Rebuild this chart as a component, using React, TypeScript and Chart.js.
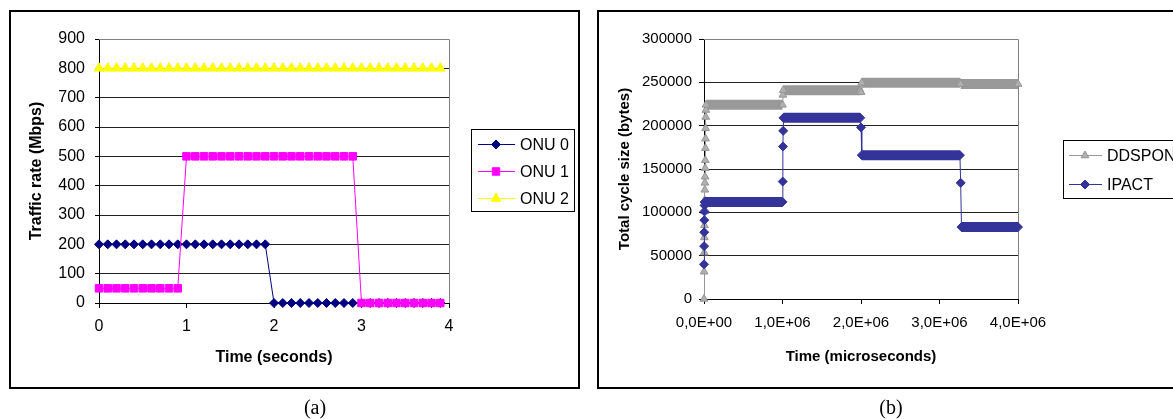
import React, { useEffect, useRef } from 'react';
import { Chart, registerables } from 'chart.js';

Chart.register(...registerables);

// ---------- Panel (a) data ----------
const timeA = [0, 0.1, 0.2, 0.3, 0.4, 0.5, 0.6, 0.7, 0.8, 0.9, 1.0, 1.1, 1.2, 1.3, 1.4, 1.5, 1.6, 1.7, 1.8, 1.9,
  2.0, 2.1, 2.2, 2.3, 2.4, 2.5, 2.6, 2.7, 2.8, 2.9, 3.0, 3.1, 3.2, 3.3, 3.4, 3.5, 3.6, 3.7, 3.8, 3.9];
const onu0 = [200, 200, 200, 200, 200, 200, 200, 200, 200, 200, 200, 200, 200, 200, 200, 200, 200, 200, 200, 200,
  0, 0, 0, 0, 0, 0, 0, 0, 0, 0, 0, 0, 0, 0, 0, 0, 0, 0, 0, 0];
const onu1 = [50, 50, 50, 50, 50, 50, 50, 50, 50, 50, 500, 500, 500, 500, 500, 500, 500, 500, 500, 500,
  500, 500, 500, 500, 500, 500, 500, 500, 500, 500, 0, 0, 0, 0, 0, 0, 0, 0, 0, 0];
const onu2 = [800, 800, 800, 800, 800, 800, 800, 800, 800, 800, 800, 800, 800, 800, 800, 800, 800, 800, 800, 800,
  800, 800, 800, 800, 800, 800, 800, 800, 800, 800, 800, 800, 800, 800, 800, 800, 800, 800, 800, 800];
const seriesNamesA = ['ONU 0', 'ONU 1', 'ONU 2'];

// ---------- Panel (b) data ----------
const ddsponTime = [0, 1500, 3000, 4500, 6000, 7500, 9000, 10500, 12000, 13500, 15000, 16500, 18000, 19500, 21000,
  22500, 24000, 26000, 1000000, 1005000, 1010000, 1990000, 2000000, 2010000, 3260000, 3270000, 4000000];
const ddsponSize = [0, 31500, 53500, 71000, 85000, 101000, 114000, 126000, 134000, 141000, 151000, 160000, 174000,
  185000, 197000, 210000, 218000, 224000, 224000, 235500, 241000, 241000, 238500, 249500, 249500, 248000, 248000];
const ipactTime = [0, 1500, 3000, 4500, 6000, 7500, 9000, 1000000, 1003000, 1006000, 1009000, 1012000, 1990000,
  2000000, 2010000, 3260000, 3270000, 3280000, 4000000];
const ipactSize = [40000, 61000, 77000, 91000, 101000, 108000, 112000, 112000, 135500, 176000, 194000, 209000, 209000,
  198000, 166000, 166000, 134000, 83000, 83000];
const seriesNamesB = ['DDSPON', 'IPACT'];
const xTicksB = [0, 1000000, 2000000, 3000000, 4000000];
const xTickLabelsB = ['0,0E+00', '1,0E+06', '2,0E+06', '3,0E+06', '4,0E+06'];

const FONT = '"Liberation Sans", Arial, sans-serif';

function drawMarker(ctx: CanvasRenderingContext2D, style: string, x: number, y: number, r: number, fill: string, stroke: string) {
  ctx.beginPath();
  if (style === 'rectRot') {
    ctx.moveTo(x, y - r); ctx.lineTo(x + r, y); ctx.lineTo(x, y + r); ctx.lineTo(x - r, y); ctx.closePath();
  } else if (style === 'rect') {
    const s = r * Math.SQRT1_2;
    ctx.rect(x - s, y - s, 2 * s, 2 * s);
  } else {
    ctx.moveTo(x, y - r);
    ctx.lineTo(x + 0.866 * r, y + 0.5 * r);
    ctx.lineTo(x - 0.866 * r, y + 0.5 * r);
    ctx.closePath();
  }
  ctx.fillStyle = fill; ctx.fill();
  ctx.strokeStyle = stroke; ctx.lineWidth = 1; ctx.stroke();
}

const plotFrame = {
  id: 'plotFrame',
  beforeDatasetsDraw(chart: any) {
    const { ctx, chartArea } = chart;
    const { left, right, top, bottom } = chartArea;
    ctx.save();
    ctx.strokeStyle = '#808080';
    ctx.lineWidth = 1;
    ctx.beginPath();
    ctx.moveTo(left, Math.round(top) + 0.5);
    ctx.lineTo(Math.round(right) + 0.5, Math.round(top) + 0.5);
    ctx.lineTo(Math.round(right) + 0.5, bottom);
    ctx.stroke();
    ctx.restore();
  },
};

function makeLegend(cfg: any) {
  return {
    id: 'boxLegend',
    afterDraw(chart: any) {
      const ctx = chart.ctx as CanvasRenderingContext2D;
      ctx.save();
      ctx.fillStyle = '#fff';
      ctx.fillRect(cfg.left, cfg.top, cfg.width, cfg.height);
      ctx.strokeStyle = '#000';
      ctx.lineWidth = 1;
      ctx.strokeRect(cfg.left + 0.5, cfg.top + 0.5, cfg.width, cfg.height);
      chart.data.datasets.forEach((ds: any, i: number) => {
        const y = cfg.rows[i] + 0.5;
        ctx.strokeStyle = ds.borderColor;
        ctx.lineWidth = 1;
        ctx.beginPath();
        ctx.moveTo(cfg.lineX0, y);
        ctx.lineTo(cfg.lineX1, y);
        ctx.stroke();
        drawMarker(ctx, ds.pointStyle, cfg.markerX, y, ds.pointRadius, ds.pointBackgroundColor, ds.pointBorderColor);
        ctx.fillStyle = '#000';
        ctx.font = `${cfg.fontSize}px ${FONT}`;
        ctx.textAlign = 'left';
        ctx.textBaseline = 'middle';
        ctx.fillText(ds.label, cfg.textX, y + 1);
      });
      ctx.restore();
    },
  };
}

function gridColor(max: number) {
  return (c: any) => (c.tick && c.tick.value === max ? '#808080' : '#222');
}

function ChartA() {
  const ref = useRef<HTMLCanvasElement>(null);
  useEffect(() => {
    const toPts = (ys: number[]) => ys.map((y, i) => ({ x: timeA[i], y }));
    const chart = new Chart(ref.current as HTMLCanvasElement, {
      type: 'line',
      data: {
        datasets: [
          { label: seriesNamesA[0], data: toPts(onu0), borderColor: '#000080', backgroundColor: '#000080', pointBackgroundColor: '#000080', pointBorderColor: '#000080', pointStyle: 'rectRot', pointRadius: 4.5, borderWidth: 1, order: 2, clip: false },
          { label: seriesNamesA[1], data: toPts(onu1), borderColor: '#FF00FF', backgroundColor: '#FF00FF', pointBackgroundColor: '#FF00FF', pointBorderColor: '#FF00FF', pointStyle: 'rect', pointRadius: 5.3, borderWidth: 1, order: 1, clip: false },
          { label: seriesNamesA[2], data: toPts(onu2), borderColor: '#FFFF00', backgroundColor: '#FFFF00', pointBackgroundColor: '#FFFF00', pointBorderColor: '#FFFF00', pointStyle: 'triangle', pointRadius: 5.5, borderWidth: 1, order: 0, clip: false },
        ] as any,
      },
      options: {
        animation: false,
        responsive: false,
        maintainAspectRatio: false,
        layout: { padding: { left: 0, top: 39, right: 141, bottom: 0 } },
        plugins: { legend: { display: false }, tooltip: { enabled: false } },
        scales: {
          x: {
            type: 'linear', min: 0, max: 4,
            afterFit: (s: any) => { s.height = 116; },
            ticks: { stepSize: 1, padding: 9, color: '#000', font: { family: FONT, size: 16 }, maxRotation: 0, autoSkip: false },
            grid: { drawOnChartArea: false, drawTicks: true, tickLength: 5, tickColor: '#000' },
            border: { color: '#000', width: 1 },
            title: { display: true, text: 'Time (seconds)', color: '#000', font: { family: FONT, size: 16, weight: 'bold' }, padding: { top: 0, bottom: 52 } },
          },
          y: {
            type: 'linear', min: 0, max: 900,
            afterFit: (s: any) => { s.width = 99; },
            ticks: { stepSize: 100, padding: 10, color: '#000', font: { family: FONT, size: 16 } },
            grid: { color: gridColor(900), drawTicks: true, tickLength: 4, tickColor: '#000' },
            border: { color: '#000', width: 1 },
            title: { display: true, text: 'Traffic rate (Mbps)', color: '#000', font: { family: FONT, size: 16, weight: 'bold' }, padding: { top: 27, bottom: 0 } },
          },
        },
      } as any,
      plugins: [plotFrame, makeLegend({ left: 471, top: 129, width: 103, height: 82, rows: [144, 171, 198], lineX0: 478, lineX1: 515, markerX: 496, textX: 520, fontSize: 16 })],
    });
    return () => chart.destroy();
  }, []);
  return <canvas ref={ref} width={590} height={419} style={{ position: 'absolute', left: 0, top: 0, width: 590, height: 419 }} />;
}

function ChartB() {
  const ref = useRef<HTMLCanvasElement>(null);
  useEffect(() => {
    const toPts = (xs: number[], ys: number[]) => ys.map((y, i) => ({ x: xs[i], y }));
    const bandWidth = (c: any) => (c.p0.parsed.y === c.p1.parsed.y ? 10 : 1);
    const chart = new Chart(ref.current as HTMLCanvasElement, {
      type: 'line',
      data: {
        datasets: [
          { label: seriesNamesB[0], data: toPts(ddsponTime, ddsponSize), borderColor: '#999999', backgroundColor: '#A6A6A6', pointBackgroundColor: '#B0B0B0', pointBorderColor: '#959595', pointStyle: 'triangle', pointRadius: 4.5, borderWidth: 1, segment: { borderWidth: bandWidth }, order: 1, clip: false },
          { label: seriesNamesB[1], data: toPts(ipactTime, ipactSize), borderColor: '#333399', backgroundColor: '#333399', pointBackgroundColor: '#333399', pointBorderColor: '#333399', pointStyle: 'rectRot', pointRadius: 4.5, borderWidth: 1, segment: { borderWidth: bandWidth }, order: 0, clip: false },
        ] as any,
      },
      options: {
        animation: false,
        responsive: false,
        maintainAspectRatio: false,
        layout: { padding: { left: 0, top: 39, right: 155, bottom: 0 } },
        plugins: { legend: { display: false }, tooltip: { enabled: false } },
        scales: {
          x: {
            type: 'linear', min: 0, max: 4000000,
            afterFit: (s: any) => { s.height = 120; },
            afterBuildTicks: (s: any) => { s.ticks = xTicksB.map((v) => ({ value: v })); },
            ticks: {
              padding: 10, color: '#000', font: { family: FONT, size: 15 }, maxRotation: 0, autoSkip: false,
              callback: (v: any) => { const i = xTicksB.indexOf(Number(v)); return i >= 0 ? xTickLabelsB[i] : ''; },
            },
            grid: { drawOnChartArea: false, drawTicks: true, tickLength: 5, tickColor: '#000' },
            border: { color: '#000', width: 1 },
            title: { display: true, text: 'Time (microseconds)', color: '#000', font: { family: FONT, size: 15, weight: 'bold' }, padding: { top: 0, bottom: 53 } },
          },
          y: {
            type: 'linear', min: 0, max: 300000,
            afterFit: (s: any) => { s.width = 114; },
            ticks: { stepSize: 50000, padding: 7, color: '#000', font: { family: FONT, size: 15 }, callback: (v: any) => String(v) },
            grid: { color: gridColor(300000), drawTicks: true, tickLength: 5, tickColor: '#000' },
            border: { color: '#000', width: 1 },
            title: { display: true, text: 'Total cycle size (bytes)', color: '#000', font: { family: FONT, size: 15, weight: 'bold' }, padding: { top: 26, bottom: 0 } },
          },
        },
      } as any,
      plugins: [plotFrame, makeLegend({ left: 473, top: 140, width: 140, height: 58, rows: [155, 184], lineX0: 479, lineX1: 512, markerX: 495, textX: 517, fontSize: 16 })],
    });
    return () => chart.destroy();
  }, []);
  return <canvas ref={ref} width={583} height={419} style={{ position: 'absolute', left: 590, top: 0, width: 583, height: 419 }} />;
}

export default function App() {
  const caption: React.CSSProperties = {
    position: 'absolute', top: 397, width: 60, height: 20, lineHeight: '20px', textAlign: 'center',
    fontFamily: '"Liberation Serif", "Times New Roman", serif', fontSize: 20, color: '#000',
  };
  return (
    <div style={{ position: 'absolute', left: 0, top: 0, width: 1173, height: 419, overflow: 'hidden', background: '#fff' }}>
      <div style={{ position: 'absolute', left: 9, top: 10, width: 571, height: 379, boxSizing: 'border-box', border: '2px solid #000' }} />
      <div style={{ position: 'absolute', left: 597, top: 10, width: 600, height: 379, boxSizing: 'border-box', border: '2px solid #000' }} />
      <ChartA />
      <ChartB />
      <div style={{ ...caption, left: 285 }}>(a)</div>
      <div style={{ ...caption, left: 861 }}>(b)</div>
    </div>
  );
}
